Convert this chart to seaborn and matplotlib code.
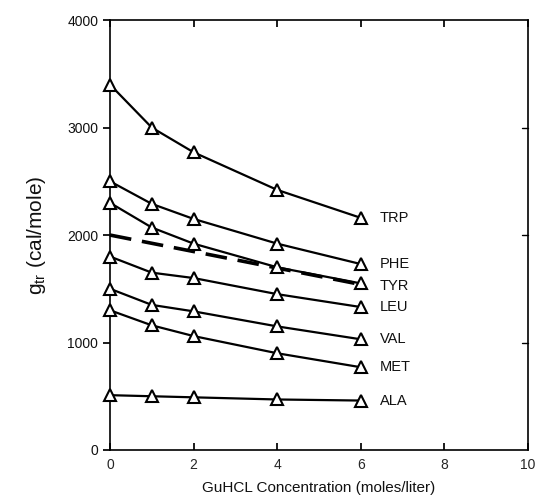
import matplotlib
matplotlib.use("Agg")
import matplotlib.pyplot as plt
import seaborn as sns
import pandas as pd

sns.set_theme(style="white")
plt.rcParams['font.family'] = ['Liberation Sans', 'DejaVu Sans']

conc = [0, 1, 2, 4, 6]
TRP = [3400, 3000, 2770, 2420, 2160]
PHE = [2500, 2290, 2150, 1920, 1730]
TYR = [2300, 2070, 1920, 1700, 1550]
LEU = [1800, 1650, 1600, 1450, 1330]
VAL = [1500, 1350, 1290, 1150, 1030]
MET = [1300, 1160, 1060, 900, 770]
ALA = [510, 500, 490, 470, 460]
series_names = ["TRP", "PHE", "TYR", "LEU", "VAL", "MET", "ALA"]
series_vals = [TRP, PHE, TYR, LEU, VAL, MET, ALA]
dash_x = [0, 6]
dash_y = [2000, 1540]
label_y = [2160, 1730, 1530, 1330, 1030, 770, 460]

xticks = [0, 2, 4, 6, 8, 10]
yticks = [0, 1000, 2000, 3000, 4000]

fig = plt.figure(figsize=(5.35, 5.03), dpi=100)
ax = fig.add_axes([0.2056, 0.1054, 0.7814, 0.8546])

sns.lineplot(x=dash_x, y=dash_y, ax=ax, color="black", lw=2.6,
             linestyle=(0, (6, 3)), zorder=2)

for name, vals in zip(series_names, series_vals):
    df = pd.DataFrame({"x": conc, "y": vals})
    sns.lineplot(data=df, x="x", y="y", ax=ax, color="black", lw=1.6,
                 marker="^", markersize=8, markerfacecolor="white",
                 markeredgecolor="black", markeredgewidth=1.5, zorder=3)

for ln in ax.get_lines():
    ln.set_clip_on(False)

for name, ly in zip(series_names, label_y):
    ax.text(6.45, ly, name, fontsize=10.5, va="center", ha="left", color="#111111")

ax.set_xlim(0, 10)
ax.set_ylim(0, 4000)
ax.set_xticks(xticks)
ax.set_yticks(yticks)
ax.set_xticklabels([str(t) for t in xticks], fontsize=10)
ax.set_yticklabels([str(t) for t in yticks], fontsize=10)
ax.tick_params(axis="x", direction="in", top=True, bottom=True, length=5, color="black", pad=6)
ax.tick_params(axis="y", which="both", left=True, right=False, direction="out", length=5, color="black")
ax.tick_params(axis="y", labelcolor="#111111")
for t in yticks[1:-1]:
    ax.plot([10, 9.85], [t, t], color="black", lw=1, clip_on=False)

for s in ax.spines.values():
    s.set_color("black")
    s.set_linewidth(1.2)

ax.set_xlabel("GuHCL Concentration (moles/liter)", fontsize=11, labelpad=6, color="#111111")
ax.set_ylabel(r"g$_{\mathregular{tr}}$ (cal/mole)", fontsize=15, labelpad=14, color="#111111")
ax.grid(False)

fig.savefig("out.png", dpi=100, facecolor="white")
